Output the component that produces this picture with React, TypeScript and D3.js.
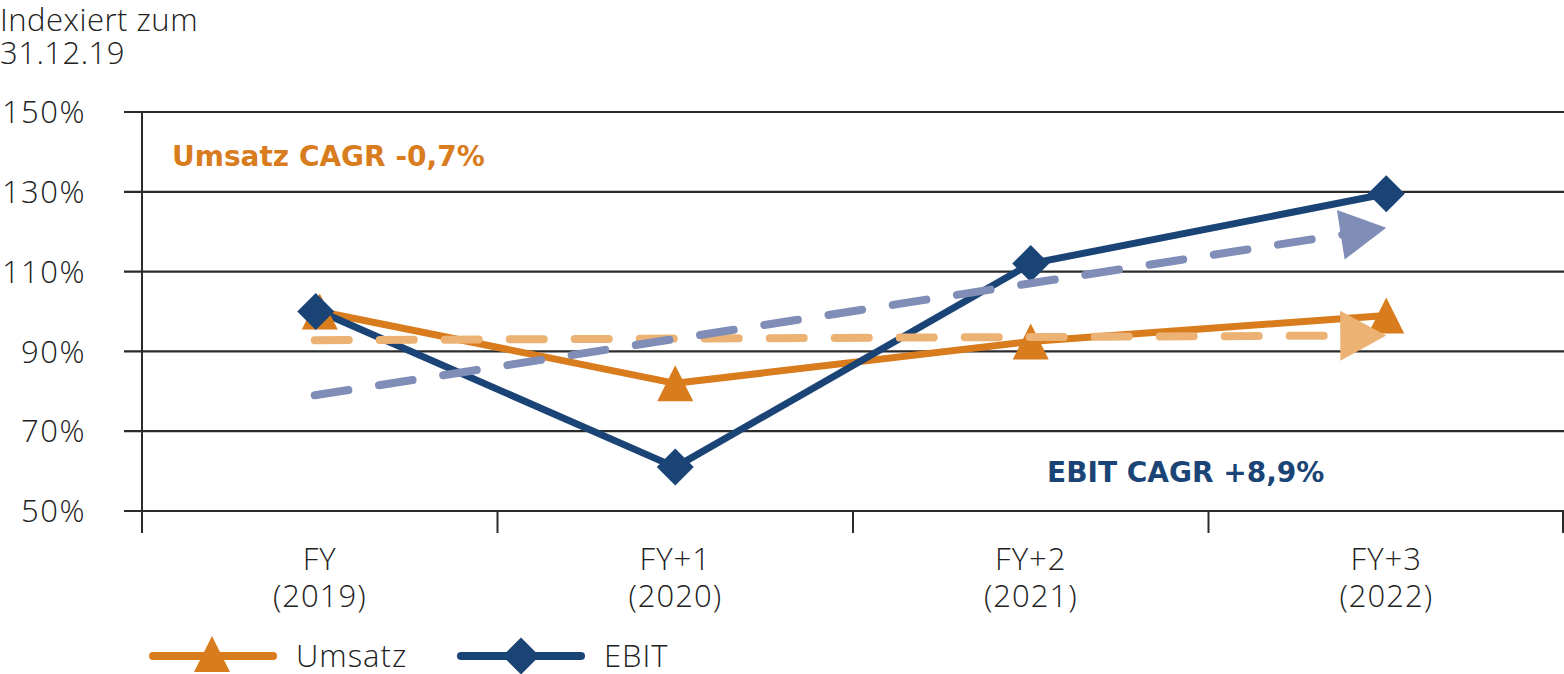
import { scaleBand, scaleLinear, line as d3_line } from "d3";

const categories = ["FY|(2019)", "FY+1|(2020)", "FY+2|(2021)", "FY+3|(2022)"];
const umsatz = [100, 82, 92.5, 99];
const ebit = [100, 61, 112, 129.5];
const umsatzTrend = [92.8, 94];
const ebitTrend = [79, 121];
const yTicks = [50, 70, 90, 110, 130, 150];

const ORANGE = "#d87c1d";
const NAVY = "#1b4476";
const LIGHT_ORANGE = "#ebb273";
const LIGHT_BLUE = "#7f8db7";
const FONT = "'Open Sans', 'Noto Sans', sans-serif";
const BOLD_FONT = "'DejaVu Sans', 'Open Sans', sans-serif";

const W = 1564;
const H = 674;

// marker shapes (bbox centred on the point)
const TRI = "M0,-18L18,18L-18,18Z";
const DIA = "M0,-18.5L18.5,0L0,18.5L-18.5,0Z";

export default function App() {
  const x = scaleBand<string>().domain(categories).range([142, 1564]);
  const y = scaleLinear().domain([50, 150]).range([511, 112]);
  const cx = (i: number) => (x(categories[i]) ?? 0) + x.bandwidth() / 2;

  const line = d3_line<number>()
    .x((_, i) => cx(i))
    .y((d) => y(d));

  // trend arrows: from first to last category
  const trend = (vals: number[], color: string) => {
    const x0 = cx(0) - 5;
    const y0 = y(vals[0]);
    const x1 = cx(categories.length - 1);
    const y1 = y(vals[1]);
    const ang = Math.atan2(y1 - y0, x1 - x0);
    const len = 46;
    const hw = 25;
    const bx = x1 - len * Math.cos(ang);
    const by = y1 - len * Math.sin(ang);
    const ex = x1 - (len - 6) * Math.cos(ang);
    const ey = y1 - (len - 6) * Math.sin(ang);
    const px = -Math.sin(ang) * hw;
    const py = Math.cos(ang) * hw;
    return (
      <g>
        <line
          x1={x0}
          y1={y0}
          x2={ex}
          y2={ey}
          stroke={color}
          strokeWidth={8}
          strokeLinecap="round"
          strokeDasharray="34 31"
        />
        <polygon
          points={`${x1},${y1} ${bx + px},${by + py} ${bx - px},${by - py}`}
          fill={color}
        />
      </g>
    );
  };

  const lightText = { fontSize: 31, fontWeight: 300, fill: "#222", letterSpacing: 1 } as const;

  return (
    <svg
      width={W}
      height={H}
      style={{ position: "absolute", left: 0, top: 0, background: "#fff" }}
      fontFamily={FONT}
    >
      {/* title */}
      <text x={0} y={31} {...lightText} letterSpacing={0.5}>
        Indexiert zum
      </text>
      <text x={0} y={64} {...lightText} letterSpacing={0.5}>
        31.12.19
      </text>

      {/* grid + y labels */}
      {yTicks.map((t) => (
        <g key={t}>
          <line x1={124} x2={W} y1={y(t)} y2={y(t)} stroke="#2b2b2b" strokeWidth={2.2} />
          <text x={86} y={y(t)} dy="0.36em" textAnchor="end" {...lightText} letterSpacing={1.5}>
            {t}%
          </text>
        </g>
      ))}

      {/* y axis */}
      <line x1={142} x2={142} y1={112} y2={533} stroke="#2b2b2b" strokeWidth={2} />
      {/* category ticks */}
      {categories.map((c) => (
        <line key={c} x1={x(c) ?? 0} x2={x(c) ?? 0} y1={511} y2={533} stroke="#2b2b2b" strokeWidth={2} />
      ))}
      <line x1={W - 1} x2={W - 1} y1={511} y2={533} stroke="#2b2b2b" strokeWidth={2} />

      {/* category labels */}
      {categories.map((c, i) => {
        const [a, b] = c.split("|");
        return (
          <text key={c} textAnchor="middle" {...lightText}>
            <tspan x={cx(i)} y={570}>
              {a}
            </tspan>
            <tspan x={cx(i)} y={607}>
              {b}
            </tspan>
          </text>
        );
      })}

      {/* series lines */}
      <path d={line(umsatz) ?? ""} fill="none" stroke={ORANGE} strokeWidth={7} strokeLinejoin="round" />
      <path d={line(ebit) ?? ""} fill="none" stroke={NAVY} strokeWidth={7} strokeLinejoin="round" />

      {umsatz.map((v, i) => (
        <path key={"u" + i} d={TRI} transform={`translate(${cx(i)},${y(v)})`} fill={ORANGE} />
      ))}
      {ebit.map((v, i) => (
        <path key={"e" + i} d={DIA} transform={`translate(${cx(i) - (i === 0 ? 4 : 0)},${y(v)})`} fill={NAVY} />
      ))}

      {/* trend lines (drawn on top) */}
      {trend(umsatzTrend, LIGHT_ORANGE)}
      {trend(ebitTrend, LIGHT_BLUE)}

      {/* annotations */}
      <text x={172} y={166} fontFamily={BOLD_FONT} fontSize={28} fontWeight={700} fill={ORANGE}>
        Umsatz CAGR -0,7%
      </text>
      <text x={1047} y={482} fontFamily={BOLD_FONT} fontSize={28} fontWeight={700} fill={NAVY}>
        EBIT CAGR +8,9%
      </text>

      {/* legend */}
      <g>
        <line x1={153} x2={273} y1={656} y2={656} stroke={ORANGE} strokeWidth={8} strokeLinecap="round" />
        <path d={TRI} transform="translate(212,654)" fill={ORANGE} />
        <text x={296} y={667} {...lightText}>
          Umsatz
        </text>
        <line x1={461} x2={581} y1={656} y2={656} stroke={NAVY} strokeWidth={8} strokeLinecap="round" />
        <path d={DIA} transform="translate(521,656)" fill={NAVY} />
        <text x={604} y={667} {...lightText}>
          EBIT
        </text>
      </g>
    </svg>
  );
}
